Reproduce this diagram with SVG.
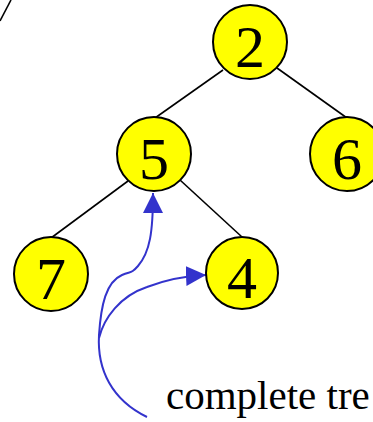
<svg xmlns="http://www.w3.org/2000/svg" width="373" height="422" viewBox="0 0 373 422">
  <style>
    .node circle { fill: #ffff00; stroke: #000; stroke-width: 2; }
    .node text { font-family: "Liberation Serif", "Times New Roman", serif; font-size: 60px; text-anchor: middle; fill: #000; }
    .edge { stroke: #000; stroke-width: 1.6; fill: none; }
    .pointer { stroke: #3333cc; stroke-width: 2; fill: none; }
    .label { font-family: "Liberation Serif", "Times New Roman", serif; font-size: 41px; fill: #000; }
  </style>
  <defs>
    <marker id="arrow" viewBox="0 0 20 20" refX="20" refY="10" markerWidth="20" markerHeight="20" markerUnits="userSpaceOnUse" orient="auto">
      <path d="M0,0 L20,10 L0,20 Z" fill="#3333cc"/>
    </marker>
  </defs>

  <g id="connectors">
    <line class="edge" x1="0" y1="21" x2="11" y2="0"/>
    <line class="edge" x1="155" y1="118" x2="223" y2="70"/>
    <line class="edge" x1="277" y1="68" x2="347" y2="118"/>
    <line class="edge" x1="128" y1="181" x2="51" y2="238"/>
    <line class="edge" x1="180" y1="180" x2="242" y2="237"/>
    <path class="pointer" d="M147,417 C112,400 97,370 99,335 C101,305 106,282 122,275 C131,271 131,274 138,266 C150,252 153,232 153,193" marker-end="url(#arrow)"/>
    <path class="pointer" d="M99,338 C104,318 120,296 147,287 C165,280 185,276 206,275" marker-end="url(#arrow)"/>
  </g>

  <g id="node-2" class="node">
    <circle cx="250" cy="42" r="37"/>
    <text x="250" y="67">2</text>
  </g>
  <g id="node-5" class="node">
    <circle cx="154" cy="154" r="37"/>
    <text x="154" y="179">5</text>
  </g>
  <g id="node-6" class="node">
    <circle cx="347" cy="154" r="37"/>
    <text x="347" y="179">6</text>
  </g>
  <g id="node-7" class="node">
    <circle cx="51" cy="274" r="37"/>
    <text x="51" y="299">7</text>
  </g>
  <g id="node-4" class="node">
    <circle cx="242" cy="273" r="36"/>
    <text x="242" y="298">4</text>
  </g>

  <text class="label" x="166" y="409">complete tre</text>
</svg>
